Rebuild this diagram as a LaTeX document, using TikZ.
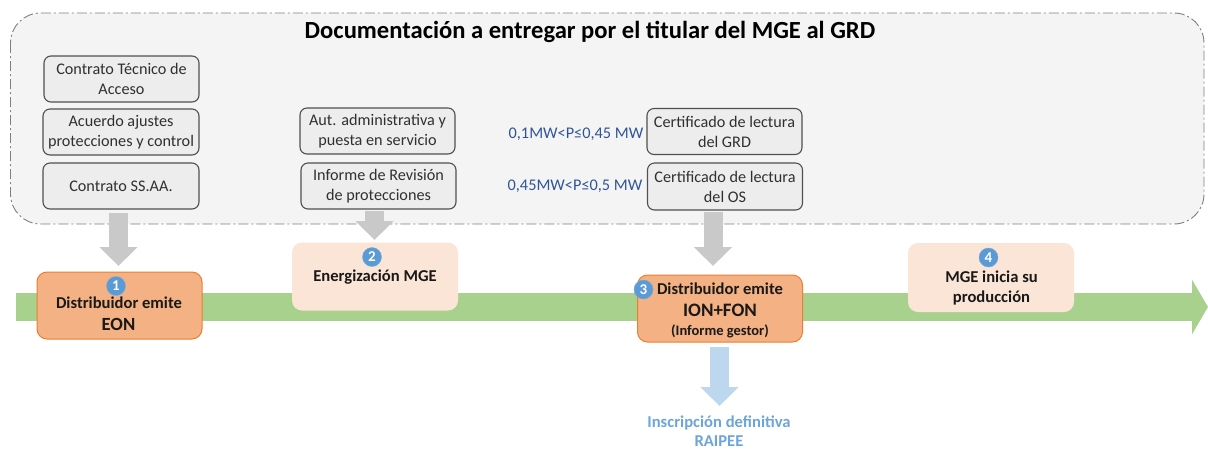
\documentclass[tikz,border=0pt]{standalone}
\usepackage{fontspec}
\setmainfont{Carlito}
\usetikzlibrary{arrows.meta}
\definecolor{panelfill}{HTML}{F4F4F4}
\definecolor{panelline}{HTML}{7F7F7F}
\definecolor{docfill}{HTML}{EDEDED}
\definecolor{docline}{HTML}{505050}
\definecolor{doctext}{HTML}{303030}
\definecolor{strong}{HTML}{F4B183}
\definecolor{strongline}{HTML}{ED7D31}
\definecolor{soft}{HTML}{FBE5D6}
\definecolor{flow}{HTML}{A9D18E}
\definecolor{graya}{HTML}{C9C9C9}
\definecolor{bluea}{HTML}{BDD7EE}
\definecolor{badge}{HTML}{5B9BD5}
\definecolor{rangetext}{HTML}{2F5597}
\tikzset{
  docbox/.style={draw=docline,fill=docfill,line width=1.1pt,rounded corners=7pt,minimum width=155pt,minimum height=46pt,inner sep=0pt,align=center,text=doctext,font=\fontsize{16.2}{20}\selectfont},
  stagestrong/.style={draw=strongline,fill=strong,line width=1pt,rounded corners=10pt,minimum width=165pt,minimum height=67pt,inner sep=0pt},
  stagesoft/.style={fill=soft,rounded corners=10pt,minimum width=166pt,minimum height=68pt,inner sep=0pt},
  stagetext/.style={align=center,inner sep=0pt,text=black!90,font=\bfseries\fontsize{16.6}{20}\selectfont},
  badgedot/.style={circle,fill=badge,draw=badge!85!white,minimum size=19pt,inner sep=0pt,text=white,font=\bfseries\fontsize{15}{15}\selectfont},
  rangelabel/.style={inner sep=0pt,text=rangetext,anchor=east,font=\fontsize{16.3}{18}\selectfont},
  blockarrow/.style={line width=19pt,-{Triangle[width=37pt,length=19pt]}},
}
\begin{document}
\begin{tikzpicture}[x=1pt,y=-1pt]
\useasboundingbox (0,0) rectangle (1208,451);
% panel
\draw[panelline,fill=panelfill,line width=0.9pt,rounded corners=30pt,dash pattern=on 10pt off 3pt on 2pt off 3pt] (10.5,13) rectangle (1204,224);
\node[inner sep=0pt,font=\bfseries\fontsize{24.6}{26}\selectfont] (title) at (590,32) {Documentación a entregar por el titular del MGE al GRD};
% flow arrow
\coordinate (flowstart) at (16,307);
\coordinate (flowend) at (1208,307);
\draw[flow,line width=28pt,-{Triangle[width=54pt,length=16pt]}] (flowstart) -- (flowend);
% documents
\node[docbox] (cta) at (121.5,79) {Contrato Técnico de\\Acceso};
\node[docbox,minimum width=156pt] (acu) at (121,132) {Acuerdo ajustes\\protecciones y control};
\node[docbox,minimum width=156pt] (ssaa) at (121,186) {Contrato SS.AA.};
\node[docbox] (aut) at (377.5,131) {Aut. administrativa y\\puesta en servicio};
\node[docbox] (inf) at (378.5,186) {Informe de Revisión\\de protecciones};
\node[docbox] (cgrd) at (724.5,131.5) {Certificado de lectura\\del GRD};
\node[docbox,minimum height=47pt] (cos) at (725,186.5) {Certificado de lectura\\del OS};
\node[rangelabel] (r1) at (643.5,134.5) {0,1MW<P≤0,45 MW};
\node[rangelabel] (r2) at (642.5,186) {0,45MW<P≤0,5 MW};
% stages
\node[stagestrong] (s1) at (119.5,305.5) {};
\node[stagesoft] (s2) at (375,276.5) {};
\node[stagestrong] (s3) at (720,308.5) {};
\node[stagesoft,minimum height=69pt] (s4) at (991,277.5) {};
% block arrows
\coordinate (a1s) at (118.5,213);
\coordinate (a1e) at (118.5,266);
\coordinate (a2s) at (374.5,211);
\coordinate (a2e) at (374.5,240);
\coordinate (a3s) at (713,212);
\coordinate (a3e) at (713,266);
\coordinate (a4s) at (719.5,347);
\coordinate (a4e) at (719.5,406);
\draw[graya,blockarrow] (a1s) -- (a1e);
\draw[graya,blockarrow] (a2s) -- (a2e);
\draw[graya,blockarrow] (a3s) -- (a3e);
\draw[bluea,blockarrow] (a4s) -- (a4e);
% stage text
\node[stagetext] (t1) at (119,303) {Distribuidor emite};
\node[stagetext,font=\bfseries\fontsize{18.6}{20}\selectfont] (t1b) at (118.5,324) {EON};
\node[stagetext] (t2) at (375,277) {Energización MGE};
\node[stagetext] (t3) at (720,289) {Distribuidor emite};
\node[stagetext,font=\bfseries\fontsize{19}{20}\selectfont] (t3b) at (720,310) {ION+FON};
\node[stagetext,font=\bfseries\fontsize{14.5}{16}\selectfont] (t3c) at (720,331) {(Informe gestor)};
\node[stagetext] (t4) at (991.5,288) {MGE inicia su\\producción};
\node[badgedot] (b1) at (116,286) {1};
\node[badgedot] (b2) at (372,257) {2};
\node[badgedot] (b3) at (643.5,289.5) {3};
\node[badgedot] (b4) at (988.5,257.5) {4};
\node[stagetext,text=badge!90!white,font=\bfseries\fontsize{16.6}{19}\selectfont] (final) at (719,431.5) {Inscripción definitiva\\RAIPEE};
\end{tikzpicture}
\end{document}
